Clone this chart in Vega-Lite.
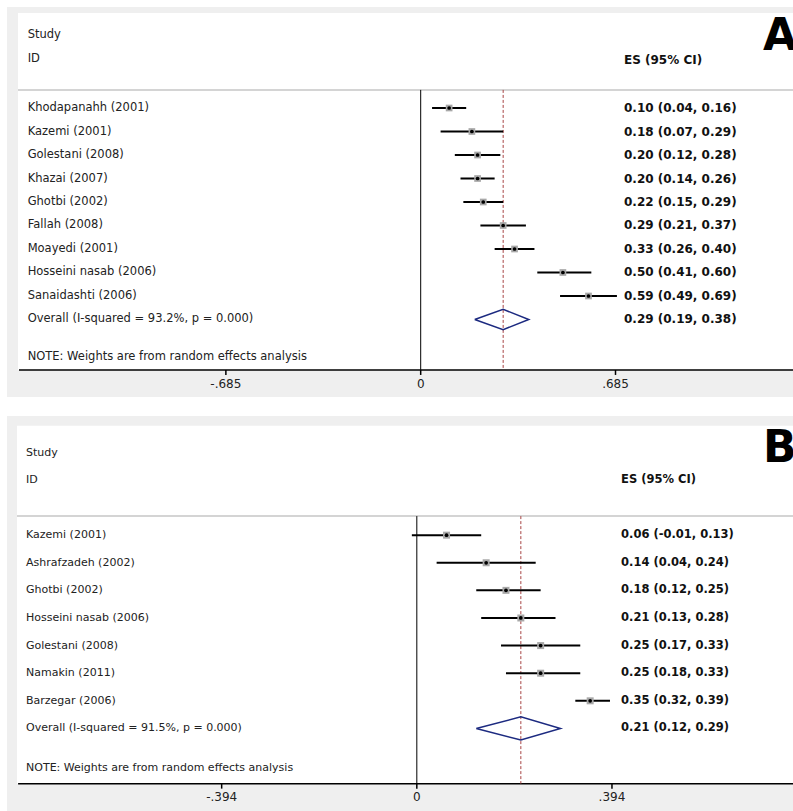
{
  "$schema": "https://vega.github.io/schema/vega-lite/v6.json",
  "background": "white",
  "padding": {"left": 7, "top": 7, "right": 0, "bottom": 0},
  "spacing": 19,
  "datasets": {
    "a": [
      {"row": 1, "type": "study", "study": "Khodapanahh (2001)", "es": 0.10, "lo": 0.04, "hi": 0.16, "label": "0.10 (0.04, 0.16)"},
      {"row": 2, "type": "study", "study": "Kazemi (2001)", "es": 0.18, "lo": 0.07, "hi": 0.29, "label": "0.18 (0.07, 0.29)"},
      {"row": 3, "type": "study", "study": "Golestani (2008)", "es": 0.20, "lo": 0.12, "hi": 0.28, "label": "0.20 (0.12, 0.28)"},
      {"row": 4, "type": "study", "study": "Khazai (2007)", "es": 0.20, "lo": 0.14, "hi": 0.26, "label": "0.20 (0.14, 0.26)"},
      {"row": 5, "type": "study", "study": "Ghotbi (2002)", "es": 0.22, "lo": 0.15, "hi": 0.29, "label": "0.22 (0.15, 0.29)"},
      {"row": 6, "type": "study", "study": "Fallah (2008)", "es": 0.29, "lo": 0.21, "hi": 0.37, "label": "0.29 (0.21, 0.37)"},
      {"row": 7, "type": "study", "study": "Moayedi (2001)", "es": 0.33, "lo": 0.26, "hi": 0.40, "label": "0.33 (0.26, 0.40)"},
      {"row": 8, "type": "study", "study": "Hosseini nasab (2006)", "es": 0.50, "lo": 0.41, "hi": 0.60, "label": "0.50 (0.41, 0.60)"},
      {"row": 9, "type": "study", "study": "Sanaidashti (2006)", "es": 0.59, "lo": 0.49, "hi": 0.69, "label": "0.59 (0.49, 0.69)"},
      {"row": 10, "type": "overall", "study": "Overall  (I-squared = 93.2%, p = 0.000)", "es": 0.29, "lo": 0.19, "hi": 0.38, "label": "0.29 (0.19, 0.38)"}
    ],
    "b": [
      {"row": 1, "type": "study", "study": "Kazemi (2001)", "es": 0.06, "lo": -0.01, "hi": 0.13, "label": "0.06 (-0.01, 0.13)"},
      {"row": 2, "type": "study", "study": "Ashrafzadeh (2002)", "es": 0.14, "lo": 0.04, "hi": 0.24, "label": "0.14 (0.04, 0.24)"},
      {"row": 3, "type": "study", "study": "Ghotbi (2002)", "es": 0.18, "lo": 0.12, "hi": 0.25, "label": "0.18 (0.12, 0.25)"},
      {"row": 4, "type": "study", "study": "Hosseini nasab (2006)", "es": 0.21, "lo": 0.13, "hi": 0.28, "label": "0.21 (0.13, 0.28)"},
      {"row": 5, "type": "study", "study": "Golestani (2008)", "es": 0.25, "lo": 0.17, "hi": 0.33, "label": "0.25 (0.17, 0.33)"},
      {"row": 6, "type": "study", "study": "Namakin (2011)", "es": 0.25, "lo": 0.18, "hi": 0.33, "label": "0.25 (0.18, 0.33)"},
      {"row": 7, "type": "study", "study": "Barzegar (2006)", "es": 0.35, "lo": 0.32, "hi": 0.39, "label": "0.35 (0.32, 0.39)"},
      {"row": 8, "type": "overall", "study": "Overall  (I-squared = 91.5%, p = 0.000)", "es": 0.21, "lo": 0.12, "hi": 0.29, "label": "0.21 (0.12, 0.29)"}
    ],
    "da": [
      {"v": 1, "x": 0.19, "y": 10},
      {"v": 2, "x": 0.29, "y": 9.57},
      {"v": 3, "x": 0.38, "y": 10},
      {"v": 4, "x": 0.29, "y": 10.43},
      {"v": 5, "x": 0.19, "y": 10}
    ],
    "db": [
      {"v": 1, "x": 0.12, "y": 8},
      {"v": 2, "x": 0.21, "y": 7.58},
      {"v": 3, "x": 0.29, "y": 8},
      {"v": 4, "x": 0.21, "y": 8.42},
      {"v": 5, "x": 0.12, "y": 8}
    ],
    "ta": [
      {"t": -0.685, "lab": "-.685"},
      {"t": 0, "lab": "0"},
      {"t": 0.685, "lab": ".685"}
    ],
    "tb": [
      {"t": -0.394, "lab": "-.394"},
      {"t": 0, "lab": "0"},
      {"t": 0.394, "lab": ".394"}
    ]
  },
  "vconcat": [
    {
      "width": 786,
      "height": 390,
      "data": {"name": "a"},
      "layer": [
        {
          "data": {"values": [{}]},
          "mark": {"type": "rect", "fill": "white", "clip": true},
          "encoding": {
            "x": {"datum": -1.416, "type": "quantitative",
              "scale": {"domain": [-1.4546, 1.3091], "nice": false, "zero": false}, "axis": null},
            "x2": {"datum": 1.4},
            "y": {"datum": -3.04, "type": "quantitative",
              "scale": {"domain": [-3.298, 13.298], "reverse": true, "nice": false, "zero": false}, "axis": null},
            "y2": {"datum": 12.15}
          }
        },
        {
          "data": {"values": [{}]},
          "mark": {"type": "rule", "color": "#c6c6c6", "strokeWidth": 1.5},
          "encoding": {
            "x": {"datum": -1.416, "type": "quantitative", "axis": null},
            "x2": {"datum": 1.3091},
            "y": {"datum": 0.23, "type": "quantitative", "axis": null}
          }
        },
        {
          "data": {"values": [{}]},
          "mark": {"type": "rule", "color": "black", "strokeWidth": 1.5},
          "encoding": {
            "x": {"datum": -1.4125, "type": "quantitative", "axis": null},
            "x2": {"datum": 1.3091},
            "y": {"datum": 12.15, "type": "quantitative", "axis": null}
          }
        },
        {
          "data": {"name": "ta"},
          "mark": {"type": "rule", "color": "black", "strokeWidth": 1.5},
          "encoding": {
            "x": {"field": "t", "type": "quantitative", "axis": null},
            "y": {"datum": 12.15, "type": "quantitative", "axis": null},
            "y2": {"datum": 12.36}
          }
        },
        {
          "data": {"name": "ta"},
          "mark": {"type": "text", "align": "center", "baseline": "middle", "fontSize": 12, "font": "DejaVu Sans", "color": "#222222"},
          "encoding": {
            "x": {"field": "t", "type": "quantitative", "axis": null},
            "y": {"datum": 12.76, "type": "quantitative", "axis": null},
            "text": {"field": "lab"}
          }
        },
        {
          "data": {"values": [{}]},
          "mark": {"type": "rule", "color": "black", "strokeWidth": 1},
          "encoding": {
            "x": {"datum": 0, "type": "quantitative", "axis": null},
            "y": {"datum": 0.23, "type": "quantitative", "axis": null},
            "y2": {"datum": 12.15}
          }
        },
        {
          "transform": [{"filter": "datum.type == 'overall'"}],
          "mark": {"type": "rule", "color": "#a84444", "strokeWidth": 1, "strokeDash": [3, 2]},
          "encoding": {
            "x": {"field": "es", "type": "quantitative", "axis": null},
            "y": {"datum": 0.23, "type": "quantitative", "axis": null},
            "y2": {"datum": 12.15}
          }
        },
        {
          "transform": [{"filter": "datum.type == 'study'"}],
          "mark": {"type": "rule", "color": "black", "strokeWidth": 2},
          "encoding": {
            "x": {"field": "lo", "type": "quantitative", "axis": null},
            "x2": {"field": "hi"},
            "y": {"field": "row", "type": "quantitative", "axis": null}
          }
        },
        {
          "transform": [{"filter": "datum.type == 'study'"}],
          "mark": {"type": "point", "shape": "square", "filled": true, "color": "#a8a8a8", "opacity": 1, "size": 45},
          "encoding": {
            "x": {"field": "es", "type": "quantitative", "axis": null},
            "y": {"field": "row", "type": "quantitative", "axis": null}
          }
        },
        {
          "transform": [{"filter": "datum.type == 'study'"}],
          "mark": {"type": "point", "shape": "circle", "filled": true, "color": "black", "opacity": 1, "size": 14},
          "encoding": {
            "x": {"field": "es", "type": "quantitative", "axis": null},
            "y": {"field": "row", "type": "quantitative", "axis": null}
          }
        },
        {
          "data": {"name": "da"},
          "mark": {"type": "line", "color": "#1c2a80", "strokeWidth": 1.5},
          "encoding": {
            "x": {"field": "x", "type": "quantitative", "axis": null},
            "y": {"field": "y", "type": "quantitative", "axis": null},
            "order": {"field": "v", "type": "quantitative"}
          }
        },
        {
          "mark": {"type": "text", "align": "left", "baseline": "middle", "fontSize": 11.5, "font": "DejaVu Sans", "color": "#222222"},
          "encoding": {
            "x": {"datum": -1.382, "type": "quantitative", "axis": null},
            "y": {"field": "row", "type": "quantitative", "axis": null},
            "text": {"field": "study"}
          }
        },
        {
          "mark": {"type": "text", "align": "left", "baseline": "middle", "fontSize": 12, "font": "DejaVu Sans", "fontWeight": "bold", "color": "#111111"},
          "encoding": {
            "x": {"datum": 0.7148, "type": "quantitative", "axis": null},
            "y": {"field": "row", "type": "quantitative", "axis": null},
            "text": {"field": "label"}
          }
        },
        {
          "data": {"values": [{}]},
          "mark": {"type": "text", "align": "left", "baseline": "middle", "fontSize": 11.5, "font": "DejaVu Sans", "color": "#222222"},
          "encoding": {
            "x": {"datum": -1.382, "type": "quantitative", "axis": null},
            "y": {"datum": 11.6, "type": "quantitative", "axis": null},
            "text": {"value": "NOTE: Weights are from random effects analysis"}
          }
        },
        {
          "data": {"values": [{}]},
          "mark": {"type": "text", "align": "left", "baseline": "middle", "fontSize": 11.5, "font": "DejaVu Sans", "color": "#222222"},
          "encoding": {
            "x": {"datum": -1.382, "type": "quantitative", "axis": null},
            "y": {"datum": -2.11, "type": "quantitative", "axis": null},
            "text": {"value": "Study"}
          }
        },
        {
          "data": {"values": [{}]},
          "mark": {"type": "text", "align": "left", "baseline": "middle", "fontSize": 11.5, "font": "DejaVu Sans", "color": "#222222"},
          "encoding": {
            "x": {"datum": -1.382, "type": "quantitative", "axis": null},
            "y": {"datum": -1.085, "type": "quantitative", "axis": null},
            "text": {"value": "ID"}
          }
        },
        {
          "data": {"values": [{}]},
          "mark": {"type": "text", "align": "left", "baseline": "middle", "fontSize": 12, "font": "DejaVu Sans", "fontWeight": "bold", "color": "#111111"},
          "encoding": {
            "x": {"datum": 0.7148, "type": "quantitative", "axis": null},
            "y": {"datum": -1.04, "type": "quantitative", "axis": null},
            "text": {"value": "ES (95% CI)"}
          }
        },
        {
          "data": {"values": [{}]},
          "mark": {"type": "text", "align": "left", "baseline": "alphabetic", "fontSize": 44, "font": "DejaVu Sans", "fontWeight": "bold", "color": "black", "clip": true},
          "encoding": {
            "x": {"datum": 1.204, "type": "quantitative", "axis": null},
            "y": {"datum": -1.468, "type": "quantitative", "axis": null},
            "text": {"value": "A"}
          }
        }
      ]
    },
    {
      "width": 786,
      "height": 395,
      "data": {"name": "b"},
      "layer": [
        {
          "data": {"values": [{}]},
          "mark": {"type": "rect", "fill": "white", "clip": true},
          "encoding": {
            "x": {"datum": -0.8072, "type": "quantitative",
              "scale": {"domain": [-0.8274, 0.7595], "nice": false, "zero": false}, "axis": null},
            "x2": {"datum": 0.8},
            "y": {"datum": -2.96, "type": "quantitative",
              "scale": {"domain": [-3.315, 10.99], "reverse": true, "nice": false, "zero": false}, "axis": null},
            "y2": {"datum": 10.0}
          }
        },
        {
          "data": {"values": [{}]},
          "mark": {"type": "rule", "color": "#c6c6c6", "strokeWidth": 1.5},
          "encoding": {
            "x": {"datum": -0.8072, "type": "quantitative", "axis": null},
            "x2": {"datum": 0.7595},
            "y": {"datum": 0.31, "type": "quantitative", "axis": null}
          }
        },
        {
          "data": {"values": [{}]},
          "mark": {"type": "rule", "color": "black", "strokeWidth": 1.5},
          "encoding": {
            "x": {"datum": -0.805, "type": "quantitative", "axis": null},
            "x2": {"datum": 0.7595},
            "y": {"datum": 10.0, "type": "quantitative", "axis": null}
          }
        },
        {
          "data": {"name": "tb"},
          "mark": {"type": "rule", "color": "black", "strokeWidth": 1.5},
          "encoding": {
            "x": {"field": "t", "type": "quantitative", "axis": null},
            "y": {"datum": 10.0, "type": "quantitative", "axis": null},
            "y2": {"datum": 10.18}
          }
        },
        {
          "data": {"name": "tb"},
          "mark": {"type": "text", "align": "center", "baseline": "middle", "fontSize": 12, "font": "DejaVu Sans", "color": "#222222"},
          "encoding": {
            "x": {"field": "t", "type": "quantitative", "axis": null},
            "y": {"datum": 10.5, "type": "quantitative", "axis": null},
            "text": {"field": "lab"}
          }
        },
        {
          "data": {"values": [{}]},
          "mark": {"type": "rule", "color": "black", "strokeWidth": 1},
          "encoding": {
            "x": {"datum": 0, "type": "quantitative", "axis": null},
            "y": {"datum": 0.31, "type": "quantitative", "axis": null},
            "y2": {"datum": 10.0}
          }
        },
        {
          "transform": [{"filter": "datum.type == 'overall'"}],
          "mark": {"type": "rule", "color": "#a84444", "strokeWidth": 1, "strokeDash": [3, 2]},
          "encoding": {
            "x": {"field": "es", "type": "quantitative", "axis": null},
            "y": {"datum": 0.31, "type": "quantitative", "axis": null},
            "y2": {"datum": 10.0}
          }
        },
        {
          "transform": [{"filter": "datum.type == 'study'"}],
          "mark": {"type": "rule", "color": "black", "strokeWidth": 2},
          "encoding": {
            "x": {"field": "lo", "type": "quantitative", "axis": null},
            "x2": {"field": "hi"},
            "y": {"field": "row", "type": "quantitative", "axis": null}
          }
        },
        {
          "transform": [{"filter": "datum.type == 'study'"}],
          "mark": {"type": "point", "shape": "square", "filled": true, "color": "#a8a8a8", "opacity": 1, "size": 49},
          "encoding": {
            "x": {"field": "es", "type": "quantitative", "axis": null},
            "y": {"field": "row", "type": "quantitative", "axis": null}
          }
        },
        {
          "transform": [{"filter": "datum.type == 'study'"}],
          "mark": {"type": "point", "shape": "circle", "filled": true, "color": "black", "opacity": 1, "size": 14},
          "encoding": {
            "x": {"field": "es", "type": "quantitative", "axis": null},
            "y": {"field": "row", "type": "quantitative", "axis": null}
          }
        },
        {
          "data": {"name": "db"},
          "mark": {"type": "line", "color": "#1c2a80", "strokeWidth": 1.5},
          "encoding": {
            "x": {"field": "x", "type": "quantitative", "axis": null},
            "y": {"field": "y", "type": "quantitative", "axis": null},
            "order": {"field": "v", "type": "quantitative"}
          }
        },
        {
          "mark": {"type": "text", "align": "left", "baseline": "middle", "fontSize": 11, "font": "DejaVu Sans", "color": "#222222"},
          "encoding": {
            "x": {"datum": -0.789, "type": "quantitative", "axis": null},
            "y": {"field": "row", "type": "quantitative", "axis": null},
            "text": {"field": "study"}
          }
        },
        {
          "mark": {"type": "text", "align": "left", "baseline": "middle", "fontSize": 11.5, "font": "DejaVu Sans", "fontWeight": "bold", "color": "#111111"},
          "encoding": {
            "x": {"datum": 0.4123, "type": "quantitative", "axis": null},
            "y": {"field": "row", "type": "quantitative", "axis": null},
            "text": {"field": "label"}
          }
        },
        {
          "data": {"values": [{}]},
          "mark": {"type": "text", "align": "left", "baseline": "middle", "fontSize": 11, "font": "DejaVu Sans", "color": "#222222"},
          "encoding": {
            "x": {"datum": -0.789, "type": "quantitative", "axis": null},
            "y": {"datum": 9.45, "type": "quantitative", "axis": null},
            "text": {"value": "NOTE: Weights are from random effects analysis"}
          }
        },
        {
          "data": {"values": [{}]},
          "mark": {"type": "text", "align": "left", "baseline": "middle", "fontSize": 11, "font": "DejaVu Sans", "color": "#222222"},
          "encoding": {
            "x": {"datum": -0.789, "type": "quantitative", "axis": null},
            "y": {"datum": -1.97, "type": "quantitative", "axis": null},
            "text": {"value": "Study"}
          }
        },
        {
          "data": {"values": [{}]},
          "mark": {"type": "text", "align": "left", "baseline": "middle", "fontSize": 11, "font": "DejaVu Sans", "color": "#222222"},
          "encoding": {
            "x": {"datum": -0.789, "type": "quantitative", "axis": null},
            "y": {"datum": -0.99, "type": "quantitative", "axis": null},
            "text": {"value": "ID"}
          }
        },
        {
          "data": {"values": [{}]},
          "mark": {"type": "text", "align": "left", "baseline": "middle", "fontSize": 11.5, "font": "DejaVu Sans", "fontWeight": "bold", "color": "#111111"},
          "encoding": {
            "x": {"datum": 0.4123, "type": "quantitative", "axis": null},
            "y": {"datum": -0.99, "type": "quantitative", "axis": null},
            "text": {"value": "ES (95% CI)"}
          }
        },
        {
          "data": {"values": [{}]},
          "mark": {"type": "text", "align": "left", "baseline": "alphabetic", "fontSize": 44, "font": "DejaVu Sans", "fontWeight": "bold", "color": "black", "clip": true},
          "encoding": {
            "x": {"datum": 0.6991, "type": "quantitative", "axis": null},
            "y": {"datum": -1.647, "type": "quantitative", "axis": null},
            "text": {"value": "B"}
          }
        }
      ]
    }
  ],
  "config": {
    "view": {"fill": "#efefef", "stroke": null},
    "axis": {"grid": false}
  }
}
